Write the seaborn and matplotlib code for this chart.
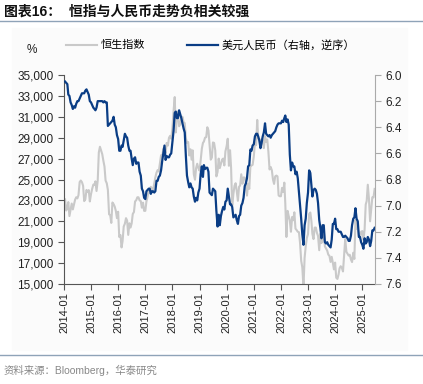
import calendar
import pandas as pd
import seaborn as sns
import matplotlib.ticker as mticker
from matplotlib import pyplot as plt
from matplotlib.lines import Line2D
from matplotlib.patches import Rectangle

# semi-monthly points: 15th and month end, 2014-01 .. 2025-05, plus 2025-06-15
hsi = [
    23100, 22035, 22300, 22837, 21500, 22151, 22700, 22134, 22600, 23082, 23300, 23191,
    23500, 24757, 24900, 24742, 24400, 22933, 23100, 23998, 23800, 23987, 22900, 23605,
    24100, 24507, 24500, 24823, 23900, 24901, 27600, 28133, 27800, 27424, 26800, 26250,
    24900, 24636, 24000, 21670, 21600, 20846, 22800, 22640, 22400, 21996, 21300, 21914,
    19500, 19683, 18500, 19112, 20500, 20777, 21300, 21067, 19700, 20815, 20400, 20794,
    21700, 21891, 22900, 23023, 23300, 23297, 23000, 22935, 22300, 22790, 22000, 22001,
    22900, 23361, 23900, 23741, 24300, 24112, 24000, 24615, 25200, 25661, 25900, 25765,
    26500, 27324, 27100, 27970, 27800, 27554, 28500, 28246, 29000, 29177, 28900, 29919,
    31500, 32887, 29500, 30845, 31500, 30093, 30300, 30808, 31000, 30469, 30400, 28955,
    28500, 28583, 27300, 27889, 26900, 27789, 25500, 24980, 26100, 26507, 26100, 25846,
    26800, 27942, 28500, 28633, 29000, 29051, 30000, 29699, 28300, 26901, 27100, 28543,
    28500, 27778, 25300, 25725, 27000, 26092, 26500, 26907, 27000, 26346, 27700, 28190,
    28900, 26313, 27800, 26130, 22500, 23603, 24400, 24644, 23900, 22961, 24300, 24427,
    25500, 24595, 25200, 25177, 24700, 23459, 24600, 24107, 26300, 26341, 26400, 27231,
    28500, 28284, 30700, 28980, 28800, 28378, 28900, 28725, 28000, 29152, 28600, 28828,
    27700, 25961, 26200, 25879, 25000, 24576, 25300, 25377, 25300, 23475, 23400, 23398,
    24200, 23802, 24700, 22713, 19500, 21997, 21500, 21089, 20000, 21415, 21100, 21860,
    20300, 20157, 20000, 19954, 18900, 17223, 16600, 14687, 17500, 18597, 19400, 19781,
    21700, 21842, 21000, 19786, 19300, 20400, 20400, 19895, 19600, 18234, 19800, 18916,
    19400, 20079, 18600, 18382, 18200, 17810, 17700, 17112, 17600, 17043, 16400, 17047,
    15600, 15485, 15900, 16511, 16700, 16541, 16200, 17763, 19300, 18080, 17900, 17719,
    17800, 17345, 17100, 17989, 17400, 21134, 20300, 20317, 19600, 19424, 20000, 20060,
    19200, 20225, 22600, 22941, 24500, 23120, 21000, 22119, 23300, 23290,
    24100,
]

usdcny = [
    6.05, 6.06, 6.07, 6.15, 6.16, 6.21, 6.23, 6.26, 6.24, 6.25, 6.22, 6.20,
    6.20, 6.18, 6.16, 6.14, 6.14, 6.14, 6.12, 6.11, 6.13, 6.15, 6.20, 6.21,
    6.23, 6.25, 6.26, 6.27, 6.25, 6.20, 6.20, 6.20, 6.20, 6.20, 6.21, 6.20,
    6.21, 6.21, 6.39, 6.38, 6.37, 6.36, 6.35, 6.32, 6.38, 6.40, 6.46, 6.49,
    6.58, 6.58, 6.54, 6.55, 6.50, 6.45, 6.47, 6.48, 6.54, 6.58, 6.58, 6.64,
    6.69, 6.64, 6.63, 6.68, 6.67, 6.67, 6.74, 6.77, 6.87, 6.89, 6.94, 6.95,
    6.89, 6.88, 6.87, 6.87, 6.91, 6.89, 6.89, 6.90, 6.89, 6.81, 6.81, 6.78,
    6.77, 6.73, 6.66, 6.60, 6.54, 6.65, 6.62, 6.63, 6.63, 6.61, 6.60, 6.51,
    6.43, 6.29, 6.28, 6.33, 6.33, 6.27, 6.30, 6.33, 6.37, 6.41, 6.44, 6.62,
    6.77, 6.82, 6.86, 6.83, 6.86, 6.87, 6.93, 6.97, 6.94, 6.96, 6.90, 6.87,
    6.76, 6.70, 6.78, 6.69, 6.72, 6.71, 6.71, 6.74, 6.90, 6.91, 6.92, 6.87,
    6.88, 6.89, 7.04, 7.16, 7.07, 7.15, 7.08, 7.04, 7.01, 7.03, 6.97, 6.96,
    6.87, 6.93, 6.99, 6.99, 7.01, 7.09, 7.08, 7.07, 7.11, 7.14, 7.08, 7.07,
    7.00, 6.98, 6.94, 6.85, 6.83, 6.79, 6.70, 6.69, 6.57, 6.58, 6.54, 6.53,
    6.47, 6.45, 6.45, 6.47, 6.50, 6.56, 6.52, 6.47, 6.44, 6.37, 6.45, 6.46,
    6.47, 6.46, 6.48, 6.46, 6.45, 6.44, 6.43, 6.40, 6.38, 6.37, 6.37, 6.37,
    6.35, 6.36, 6.33, 6.31, 6.36, 6.34, 6.38, 6.61, 6.73, 6.67, 6.70, 6.70,
    6.76, 6.74, 6.79, 6.90, 7.00, 7.10, 7.22, 7.30, 7.15, 7.10, 6.98, 6.90,
    6.73, 6.75, 6.85, 6.93, 6.88, 6.87, 6.88, 6.91, 6.98, 7.11, 7.17, 7.25,
    7.15, 7.15, 7.28, 7.29, 7.28, 7.30, 7.31, 7.32, 7.26, 7.14, 7.14, 7.10,
    7.18, 7.18, 7.20, 7.20, 7.20, 7.22, 7.24, 7.24, 7.23, 7.24, 7.25, 7.27,
    7.27, 7.23, 7.15, 7.10, 7.09, 7.02, 7.10, 7.12, 7.24, 7.24, 7.28, 7.30,
    7.33, 7.25, 7.29, 7.28, 7.24, 7.26, 7.31, 7.27, 7.19, 7.19,
    7.17,
]

year_ticks = [f"{y}-01" for y in range(2014, 2026)]

dates = []
for y in range(2014, 2026):
    for m in range(1, 13):
        dates.append(pd.Timestamp(y, m, 15))
        dates.append(pd.Timestamp(y, m, calendar.monthrange(y, m)[1]))
dates = dates[:len(hsi)]

df = pd.DataFrame({"date": dates, "hsi": hsi, "usdcny": usdcny})

GRAY = "#c9c9c9"
BLUE = "#0a3d85"
plt.rcParams['font.family'] = ['Liberation Sans', 'Noto Sans CJK SC', 'DejaVu Sans']

fig = plt.figure(figsize=(4.23, 3.84), dpi=100)
fig.patches.append(Rectangle((12/423, 1-350/384), 395/423, 322/384,
                             transform=fig.transFigure, color="#fbfbfb", zorder=-10))
ax = fig.add_axes([64/423, 1-284/384, 311/423, 209/384])
ax.patch.set_alpha(0)
ax2 = ax.twinx()

sns.lineplot(data=df, x="date", y="hsi", ax=ax, color=GRAY, linewidth=1.5)
sns.lineplot(data=df, x="date", y="usdcny", ax=ax2, color=BLUE, linewidth=1.6)

ax.set_ylim(15000, 35000)
ax.set_yticks(range(15000, 35001, 2000))
ax.yaxis.set_major_formatter(mticker.StrMethodFormatter("{x:,.0f}"))
ax2.set_ylim(7.6, 6.0)
ax2.set_yticks([6.0, 6.2, 6.4, 6.6, 6.8, 7.0, 7.2, 7.4, 7.6])
ax2.yaxis.set_major_formatter(mticker.FormatStrFormatter("%.1f"))

ax.set_xlim(pd.Timestamp("2014-01-01"), pd.Timestamp("2025-06-20"))
ax.set_xticks([pd.Timestamp(t + "-01") for t in year_ticks])
ax.set_xticklabels(year_ticks, rotation=90, fontsize=8)
ax.set_xlabel("")
ax.set_ylabel("")
ax2.set_ylabel("")

for a in (ax, ax2):
    for s in a.spines.values():
        s.set_visible(False)
ax.spines["left"].set_visible(True)
ax.spines["left"].set_color("#555555")
ax.spines["bottom"].set_visible(True)
ax.spines["bottom"].set_color("#555555")
ax2.spines["right"].set_visible(True)
ax2.spines["right"].set_color("#aaaaaa")
ax.tick_params(axis="y", labelsize=8.5, length=4, color="#555555", colors="#222222")
ax.tick_params(axis="x", length=4, color="#555555", colors="#222222", pad=2)
ax2.tick_params(axis="y", labelsize=8.5, length=4, color="#aaaaaa", labelcolor="#222222")

handles = [Line2D([], [], color=GRAY, linewidth=1.5),
           Line2D([], [], color=BLUE, linewidth=1.6)]
fig.legend(handles, ["恒生指数", "美元人民币（右轴，逆序）"], ncol=2, frameon=False,
           loc="center left", bbox_to_anchor=(56/423, 1-45/384),
           handlelength=2.8, columnspacing=3.8, handletextpad=0.3,
           prop={"family": ["Noto Sans CJK SC"], "size": 8})
fig.text(27/423, 1-50/384, "%", fontsize=8.5, color="#222222", va="center")

fig.text(4/423, 1-12/384, "图表16：  恒指与人民币走势负相关较强", fontsize=10,
         fontweight="bold", va="center", color="#111111")
fig.add_artist(Line2D([0, 1], [1-21/384, 1-21/384], color="#8fa3b8", linewidth=1))
fig.add_artist(Line2D([0, 1], [1-355/384, 1-355/384], color="#8fa3b8", linewidth=1))
fig.text(4/423, 1-370/384, "资料来源：Bloomberg，华泰研究", fontsize=7.5,
         va="center", color="#888888")

plt.savefig("out.png", dpi=100)
